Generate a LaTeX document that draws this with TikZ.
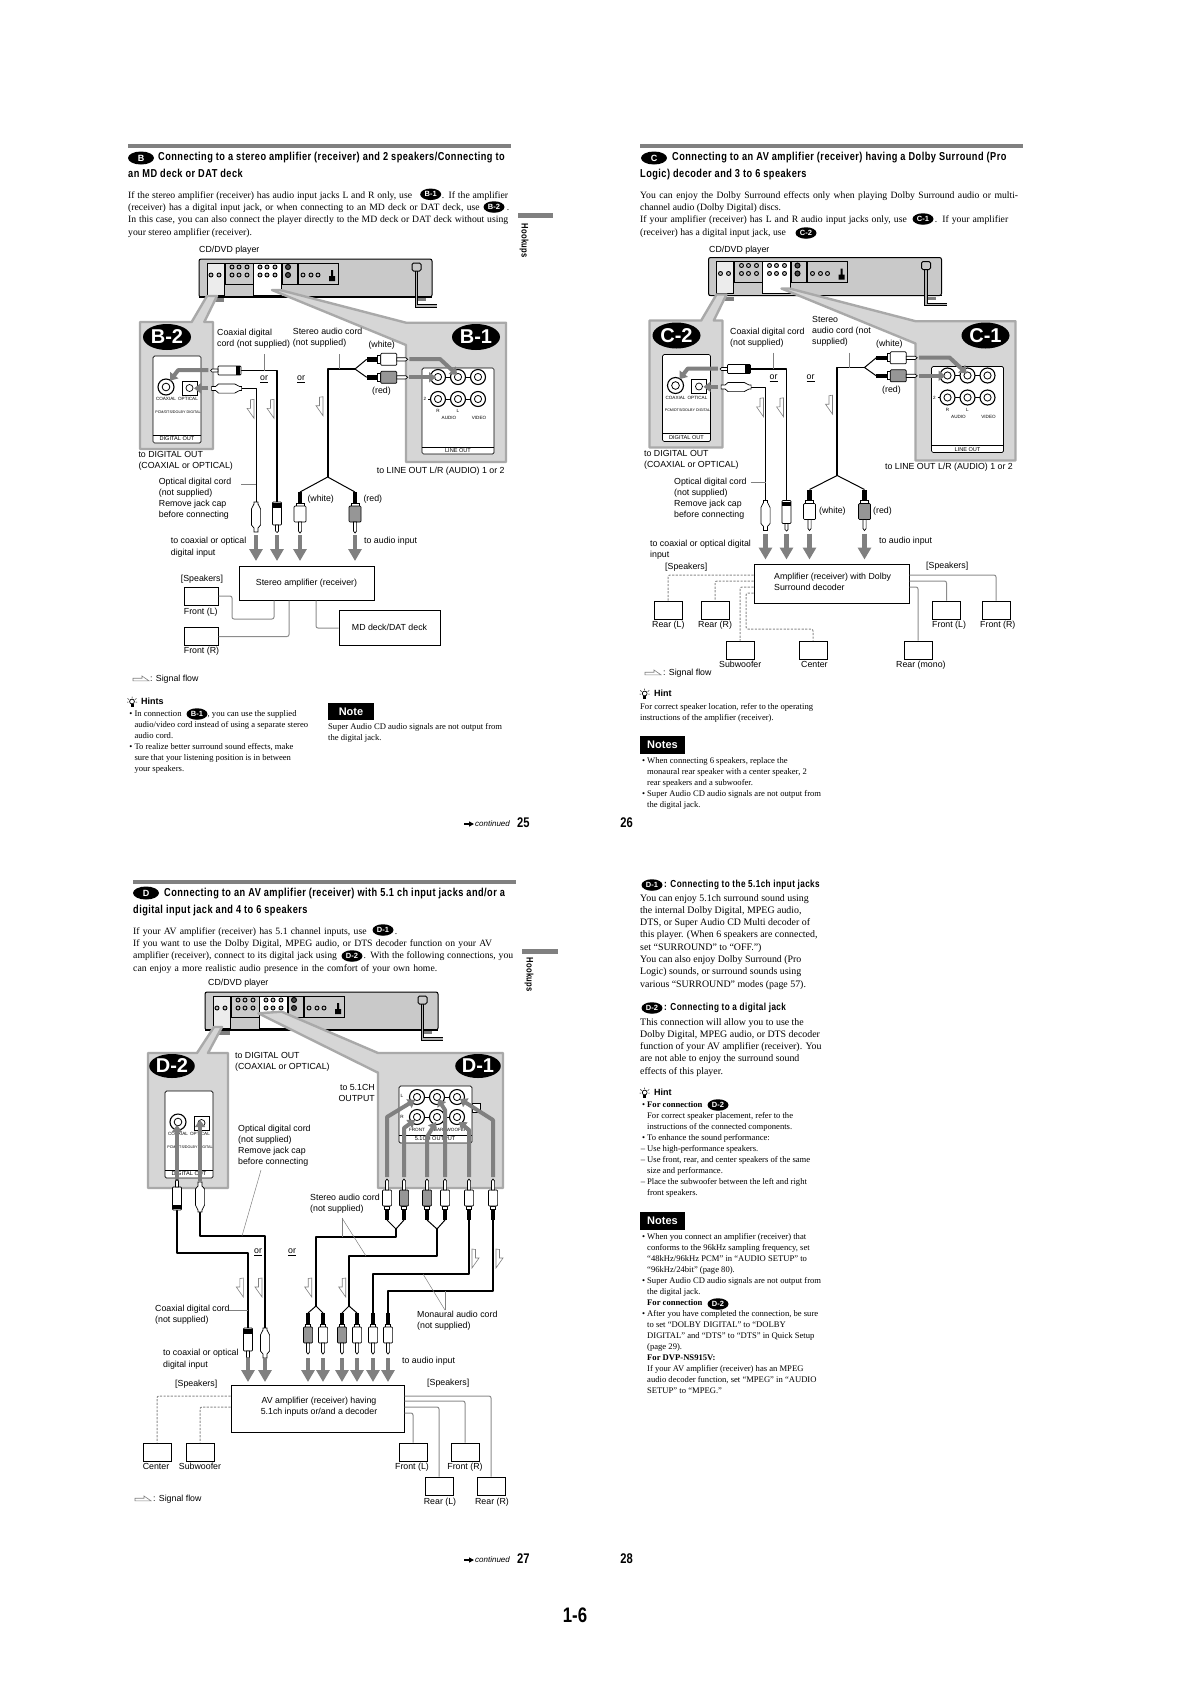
\documentclass[tikz,border=0pt]{standalone}
\usepackage{fontspec}
\setmainfont{Liberation Serif}
\setsansfont{Liberation Sans}
\newfontfamily\hdfam[FakeStretch=0.8,LetterSpace=4]{Liberation Sans}
\newfontfamily\numfam[FakeStretch=0.8]{Liberation Sans}
\usetikzlibrary{arrows.meta,shapes.geometric}
\definecolor{panelfill}{HTML}{D6D6D6}
\definecolor{paneledge}{HTML}{A9A9A9}
\definecolor{playergray}{HTML}{C9C9C9}
\definecolor{arrowgray}{HTML}{808080}
\definecolor{wiregray}{HTML}{8C8C8C}
\definecolor{plugred}{HTML}{969696}
\newcommand{\headfont}{\hdfam\bfseries\fontsize{11.5}{17}\selectfont}
\newcommand{\subheadfont}{\hdfam\bfseries\fontsize{10.2}{12}\selectfont}
\newcommand{\parafont}{\rmfamily\fontsize{9.7}{12.2}\selectfont}
\newcommand{\sidefont}{\rmfamily\fontsize{9.9}{12.3}\selectfont}
\newcommand{\hintfont}{\rmfamily\fontsize{8.6}{11}\selectfont}
\newcommand{\lblfont}{\sffamily\fontsize{8.8}{11}\selectfont}
\newcommand{\jackfont}{\sffamily\fontsize{4.6}{5}\selectfont}
\newcommand{\pagefont}{\numfam\bfseries\fontsize{14}{16}\selectfont}
\newcommand{\jline}[2]{\makebox[#1pt][s]{#2}}
\tikzset{
    para/.style={font=\parafont,align=left,inner sep=0pt,anchor=north west},
    sidepara/.style={font=\sidefont,align=left,inner sep=0pt,anchor=north west},
    hintpara/.style={font=\hintfont,align=left,inner sep=0pt,anchor=north west},
    lbl/.style={font=\lblfont,align=left,inner sep=0pt,anchor=north west},
    heading/.style={font=\headfont,inner sep=0pt,anchor=mid west},
    subhead/.style={font=\subheadfont,inner sep=0pt,anchor=mid west},
    jacklbl/.style={font=\jackfont,inner sep=0pt},
    hintlbl/.style={font=\sffamily\bfseries\fontsize{9}{11}\selectfont,inner sep=0pt,anchor=mid west},
    headbadge/.style={ellipse,fill=black,text=white,inner sep=0pt,minimum width=26pt,minimum height=13pt,font=\sffamily\bfseries\fontsize{9}{10}\selectfont},
    inbadge/.style={ellipse,fill=black,text=white,inner sep=0pt,minimum width=21pt,minimum height=11.5pt,font=\sffamily\bfseries\fontsize{7.5}{8}\selectfont},
    panelbadge/.style={ellipse,fill=black,text=white,inner sep=0pt,minimum width=48pt,minimum height=26pt,font=\sffamily\bfseries\fontsize{20}{22}\selectfont},
    notebox/.style={fill=black,text=white,inner sep=0pt,minimum height=17.5pt,font=\sffamily\bfseries\fontsize{11}{12}\selectfont},
    ampbox/.style={draw,line width=1pt,inner sep=0pt,font=\lblfont,align=left},
    spkbox/.style={draw,line width=1pt,fill=white,inner sep=0pt,minimum width=28pt,minimum height=18pt},
    headrule/.style={line width=3.2pt,draw=arrowgray},
    panel/.style={fill=panelfill,draw=paneledge,line width=2.4pt},
    cardline/.style={line width=.7pt},
    cord/.style={line width=1.6pt,line join=round},
    thincord/.style={line width=1pt,line join=round},
    leader/.style={line width=.5pt,draw=gray},
    wire/.style={line width=1pt,draw=wiregray,rounded corners=2pt},
    dashwire/.style={wire,dashed,dash pattern=on 2.2pt off 1.4pt},
    flowline/.style={line width=.6pt,draw=gray,fill=white},
    panelarrow/.style={draw=arrowgray,line width=4pt,line join=round,-{Triangle[length=7pt,width=10pt]}},
    downarrow/.style={draw=arrowgray,line width=4.6pt,-{Triangle[length=12pt,width=13pt]}},
}
\newcommand{\plughw}{6}
% plug seen from the side, cord end at x,y
\newcommand{\rcaplug}[4]{\begin{scope}[shift={(#1,#2)},rotate=#3]
	\fill[black] (-2.2,0) rectangle (2.2,11);
	\draw[line width=.7pt,fill=white] (-\plughw+2,11) rectangle (\plughw-2,14);
	\draw[line width=.7pt,fill=#4,rounded corners=1pt] (-\plughw,14) rectangle (\plughw,30);
	\draw[line width=.7pt,fill=white] (-1.6,30) -- (-1.6,39) -- (0,41) -- (1.6,39) -- (1.6,30) -- cycle;
\end{scope}}
\newcommand{\coaxplug}[3]{\begin{scope}[shift={(#1,#2)},rotate=#3]
	\draw[line width=.7pt,fill=white,rounded corners=.8pt] (-4.5,0) rectangle (4.5,23);
	\fill[black] (-4.5,1) rectangle (4.5,5.5);
	\draw[line width=.7pt,fill=white] (-1.5,23) -- (-1.5,29) -- (0,30.5) -- (1.5,29) -- (1.5,23) -- cycle;
\end{scope}}
\newcommand{\optplug}[3]{\begin{scope}[shift={(#1,#2)},rotate=#3]
	\draw[line width=.7pt,fill=white] (-2,0) -- (-2,2) -- (-4.6,7) -- (-4.6,23) -- (-2,26) -- (-2,30) -- (2,30) -- (2,26) -- (4.6,23) -- (4.6,7) -- (2,2) -- (2,0) -- cycle;
\end{scope}}
\newcommand{\rcajack}[3]{\draw[line width=1.1pt,fill=white] (#1,#2) circle (#3);
	\draw[line width=.8pt,fill=white] (#1,#2) circle (#3*.48);}
\newcommand{\sigflow}[3]{\draw[flowline,shift={(#1,#2)},xscale=#3] (0,0) -- (0,19) -- (-7,9) -- (-3.5,9) -- (-3.5,.5) -- cycle;}
\newcommand{\siglegend}[2]{\draw[flowline,shift={(#1,#2)}] (0,1.8) -- (16,1.8) -- (9,-3) -- (9,-.8) -- (0,-.8) -- cycle;}
\newcommand{\hinticon}[2]{\begin{scope}[shift={(#1,#2)}]
	\draw[line width=.7pt] (0,-.5) circle (2.4);
	\draw[line width=.5pt] (-4.5,-3.5) -- (-3,-2.5) (4.5,-3.5) -- (3,-2.5) (0,-5.5) -- (0,-4) (-5,0) -- (-3.6,0) (5,0) -- (3.6,0);
	\fill[black] (-1.5,2) rectangle (1.5,5);
\end{scope}}
\newcommand{\dvdplayer}{
	\draw[line width=1pt,fill=playergray,rounded corners=2pt] (199,259) rectangle (432,297);
	\draw[line width=1.4pt] (199,297) -- (432,297);
	\fill[gray] (212,298) rectangle (224,302);
	\fill[gray] (416,298) rectangle (426,301);
	\draw[cardline,fill=white!85!gray] (207,263) rectangle (224,295);
	\draw[cardline,fill=white] (253,263) rectangle (281,295);
	\draw[cardline,fill=playergray] (225,263) rectangle (253,284);
	\draw[cardline,fill=playergray] (282,263) rectangle (297,284);
	\draw[cardline,fill=playergray] (298,263) rectangle (338,284);
	\foreach \x in {211,219,303,311,318} \draw[line width=.9pt,fill=gray!50] (\x,275) circle (2);
	\foreach \x in {232,239,247,260,267,275} {
		\draw[line width=.9pt,fill=gray!50] (\x,267) circle (2);
		\draw[line width=.9pt,fill=gray!50] (\x,275) circle (2);
	}
	\foreach \y in {267,275} \draw[line width=1pt,fill=black!70] (288,\y) circle (2.5);
	\fill[black] (329,281) rectangle (335,276) (331,276) rectangle (333,270);
	\draw[line width=3.2pt] (416.5,271) -- (416.5,306) -- (437,306);
	\draw[line width=1.8pt,draw=gray!60] (416.5,271) -- (416.5,306) -- (437,306);
	\draw[line width=1pt,fill=playergray,rounded corners=1.5pt] (412,263) rectangle (421,271);
}
\newcommand{\digitalcard}[2]{\begin{scope}[shift={(#1,#2)}]
	\draw[cardline,fill=white,rounded corners=1.5pt] (0,0) rectangle (48,87);
	\draw[cardline] (0,79) -- (48,79);
	\rcajack{13}{31}{8}
	\draw[cardline,fill=white] (29,25) rectangle (44,39);
	\draw[cardline] (36.5,32) circle (3.5);
	\node[jacklbl] (coaxlbl) at (13,43) {COAXIAL};
	\node[jacklbl] (optlbl) at (35,43) {OPTICAL};
	\node[jacklbl,font=\sffamily\fontsize{3.7}{4}\selectfont] (pcmlbl) at (25,56) {PCM/DTS/DOLBY DIGITAL};
	\node[jacklbl,font=\sffamily\fontsize{5.6}{6}\selectfont] (digoutlbl) at (24,83) {DIGITAL OUT};
\end{scope}}
\newcommand{\lineoutcard}[2]{\begin{scope}[shift={(#1,#2)}]
	\draw[cardline,fill=white,rounded corners=1.5pt] (0,0) rectangle (72,86);
	\draw[cardline] (0,79) -- (72,79);
	\draw[line width=.8pt] (16,9) -- (56,9) (6,31) -- (56,31);
	\foreach \x in {16,36,56} {
		\rcajack{\x}{9}{7.5}
		\rcajack{\x}{31}{7.5}
	}
	\node[jacklbl] (twolbl) at (3,31) {2};
	\node[jacklbl] (rlbl) at (16,43) {R};
	\node[jacklbl] (llbl) at (36,43) {L};
	\node[jacklbl] (audiolbl) at (27,50) {AUDIO};
	\node[jacklbl] (videolbl) at (57,50) {VIDEO};
	\node[jacklbl,font=\sffamily\fontsize{5.6}{6}\selectfont] (lineoutlbl) at (36,83) {LINE OUT};
\end{scope}}
% the upper half shared by the stereo and the Dolby hookups
\newcommand{\hookupcore}[3]{
	\dvdplayer
	\draw[panel,line join=round] (140,322) -- (191.7,322) -- (207,296) -- (217,296) -- (204.3,322) -- (213,322) -- (213,449) -- (140,449) -- cycle;
	\draw[panel,line join=round] (280,290) -- (406,322.7) -- (506,322.7) -- (506,462) -- (406,462) -- (406,345) -- (272,290) -- cycle;
	\digitalcard{153}{356}
	\lineoutcard{422}{368}
	\node[panelbadge] (leftbadge) at (167,337) {#1};
	\node[panelbadge] (rightbadge) at (476,337) {#2};
	\draw[panelarrow] (409.3,359) -- (440,359) -- (457.3,375);
	\draw[panelarrow] (409.3,377.3) -- (436,377.3);
	\draw[panelarrow] (208.3,370) -- (178.3,370) -- (170,380.7);
	\draw[panelarrow] (208.3,388.3) -- (194,388.3);
	\coordinate (coaxin) at (241,370.5);
	\coordinate (coaxout) at (277,502);
	\coordinate (optin) at (241.6,388.5);
	\coordinate (optout) at (256,502);
	\coordinate (trunktop) at (327.7,369);
	\coordinate (trunkfork) at (327.7,477);
	\coordinate (forkhub) at (355,369);
	\draw[cord] (coaxin) -| (coaxout);
	\draw[thincord] (optin) -| (optout);
	\draw[cord] (forkhub) -- (trunktop) -- (trunkfork);
	\draw[thincord] (366.7,359.3) -- (forkhub) -- (366.7,377.3);
	\draw[thincord] (300,#3) -- (trunkfork) -- (355,#3);
	\coaxplug{241}{370.5}{-90}
	\optplug{241.6}{388.5}{-90}
	\rcaplug{366.7}{359.3}{90}{white}
	\rcaplug{366.7}{377.3}{90}{plugred}
	\optplug{256}{502}{0}
	\coaxplug{277}{502}{0}
	\rcaplug{300}{#3}{0}{white}
	\rcaplug{355}{#3}{0}{plugred}
	\foreach \x in {256,277,300,355} \draw[downarrow] (\x,535) -- (\x,561);
	\draw[leader] (264,354) -- (264,370.5);
	\draw[leader] (339.3,354) -- (339.3,369);
	\draw[leader] (241,484) -- (256,484);
	\sigflow{254}{399.3}{1}
	\sigflow{274}{399.3}{1}
	\sigflow{323}{396.7}{1}
	\node[lbl] (orone) at (260,376) {\underline{or}};
	\node[lbl] (ortwo) at (297,376) {\underline{or}};
}
\begin{document}
\begin{tikzpicture}[x=1pt,y=-1pt]
	\useasboundingbox (0,0) rectangle (1191,1684);
	% page 25
	\begin{scope}[name prefix=b-]
		\hookupcore{B-2}{B-1}{492}
	\end{scope}
	\draw[headrule] (128,146) -- (511,146);
	\node[headbadge] (bbadge) at (141,158) {B};
	\node[heading] (bhead1) at (158,158.5) {Connecting to a stereo amplifier (receiver) and 2 speakers/Connecting to};
	\node[heading] (bhead2) at (128,175.5) {an MD deck or DAT deck};
	\node[para] (bpara) at (128,191.5) {\jline{380}{If the stereo amplifier (receiver) has audio input jacks L and R only, use \hspace{27pt}. If the amplifier}\\\jline{381}{(receiver) has a digital input jack, or when connecting to an MD deck or DAT deck, use \hspace{24pt}.}\\\jline{380}{In this case, you can also connect the player directly to the MD deck or DAT deck without using}\\your stereo amplifier (receiver).};
	\node[inbadge] (bpb1) at (430.7,194.3) {B-1};
	\node[inbadge] (bpb2) at (494,207) {B-2};
	\fill[arrowgray] (518,213) rectangle (553,218);
	\node[subhead,font=\hdfam\bfseries\fontsize{9.5}{10}\selectfont,rotate=-90,anchor=west] (btab) at (524,223) {Hookups};
	\node[lbl] (bplayer) at (199,246) {CD/DVD player};
	\node[lbl] (bcoax) at (217,329) {Coaxial digital\\cord (not supplied)};
	\node[lbl] (bstereo) at (292.7,328) {Stereo audio cord\\(not supplied)};
	\node[lbl] (bwhite) at (368.3,341) {(white)};
	\node[lbl] (bred) at (372,387) {(red)};
	\node[lbl] (bdigout) at (138.3,451) {to DIGITAL OUT\\(COAXIAL or OPTICAL)};
	\node[lbl] (blineout) at (376.7,467) {to LINE OUT L/R (AUDIO) 1 or 2};
	\node[lbl] (boptical) at (158.7,478) {Optical digital cord\\(not supplied)\\Remove jack cap\\before connecting};
	\node[lbl] (bwhite2) at (307.3,495) {(white)};
	\node[lbl] (bred2) at (363.3,495) {(red)};
	\node[lbl,font=\sffamily\fontsize{8.8}{12}\selectfont] (bcoaxin) at (170.7,537) {to coaxial or optical\\digital input};
	\node[lbl] (baudioin) at (364,537) {to audio input};
	\node[lbl] (bspeakers) at (180.7,575) {[Speakers]};
	\node[ampbox,minimum width=135pt,minimum height=34pt] (bamp) at (306.5,583) {Stereo amplifier (receiver)};
	\node[ampbox,minimum width=101pt,minimum height=35pt] (bdeck) at (389.5,627.5) {MD deck/DAT deck};
	\node[spkbox,minimum width=34pt] (bfrontl) at (201,596) {};
	\node[spkbox,minimum width=34pt] (bfrontr) at (201,636.5) {};
	\node[lbl] (bfrontltxt) at (183.7,608) {Front (L)};
	\node[lbl] (bfrontrtxt) at (183.7,647) {Front (R)};
	\draw[wire] (bfrontl.east) -- (232,596) -- (232,619) -- (274,619) -- (bamp.south -| 274,0);
	\draw[wire] (bfrontr.east) -- (289,636.5) -- (bamp.south -| 289,0);
	\draw[wire] (bamp.south -| 316,0) -- (316,628) -- (bdeck.west |- 0,628);
	\siglegend{133}{679}
	\node[lbl] (bflow) at (150,675) {: Signal flow};
	\hinticon{132}{702}
	\node[hintlbl] (bhints) at (141,702.5) {Hints};
	\node[hintpara] (bhinttxt) at (134.3,710) {\llap{\textbullet\ }In connection \hspace{24pt}, you can use the supplied\\audio/video cord instead of using a separate stereo\\audio cord.\\\llap{\textbullet\ }To realize better surround sound effects, make\\sure that your listening position is in between\\your speakers.};
	\node[inbadge] (bhb1) at (197,714) {B-1};
	\node[notebox,minimum width=46pt] (bnote) at (351,711.5) {Note};
	\node[hintpara] (bnotetxt) at (328,723) {Super Audio CD audio signals are not output from\\the digital jack.};
	\draw[line width=1.6pt,-{Triangle[length=5pt,width=5pt]}] (464,824) -- (474,824);
	\node[font=\sffamily\itshape\fontsize{8}{9}\selectfont,inner sep=0pt,anchor=mid west] (bcont) at (475,824) {continued};
	\node[font=\pagefont,inner sep=0pt,anchor=mid west] (bpage) at (517,825) {25};
	% page 26
	\begin{scope}[shift={(509.5,-1.5)},name prefix=c-]
		\hookupcore{C-2}{C-1}{491}
	\end{scope}
	\draw[headrule] (640,146) -- (1023,146);
	\node[headbadge] (cbadge) at (654,158) {C};
	\node[heading] (chead1) at (672,158.5) {Connecting to an AV amplifier (receiver) having a Dolby Surround (Pro};
	\node[heading] (chead2) at (640,175.5) {Logic) decoder and 3 to 6 speakers};
	\node[para] (cpara) at (640,191.5) {\jline{378}{You can enjoy the Dolby Surround effects only when playing Dolby Surround audio or multi-}\\channel audio (Dolby Digital) discs.\\\jline{368}{If your amplifier (receiver) has L and R audio input jacks only, use \hspace{25pt}. If your amplifier}\\(receiver) has a digital input jack, use \hspace{25pt}.};
	\node[inbadge] (cpb1) at (923,219) {C-1};
	\node[inbadge] (cpb2) at (806,233) {C-2};
	\node[lbl] (cplayer) at (709,246) {CD/DVD player};
	\node[lbl] (ccoax) at (730,328) {Coaxial digital cord\\(not supplied)};
	\node[lbl] (cstereo) at (812,316) {Stereo\\audio cord (not\\supplied)};
	\node[lbl] (cwhite) at (876,340) {(white)};
	\node[lbl] (cred) at (882,386) {(red)};
	\node[lbl] (cdigout) at (644,450) {to DIGITAL OUT\\(COAXIAL or OPTICAL)};
	\node[lbl] (clineout) at (885,463) {to LINE OUT L/R (AUDIO) 1 or 2};
	\node[lbl] (coptical) at (674,478) {Optical digital cord\\(not supplied)\\Remove jack cap\\before connecting};
	\node[lbl] (cwhite2) at (819,507) {(white)};
	\node[lbl] (cred2) at (873,507) {(red)};
	\node[lbl] (ccoaxin) at (650,540) {to coaxial or optical digital\\input};
	\node[lbl] (caudioin) at (879,537) {to audio input};
	\node[lbl] (cspeakersl) at (665,563) {[Speakers]};
	\node[lbl] (cspeakersr) at (926,562) {[Speakers]};
	\node[ampbox,minimum width=155pt,minimum height=39pt] (camp) at (831.5,583.5) {};
	\node[lbl] (camptxt) at (774,573) {Amplifier (receiver) with Dolby\\Surround decoder};
	\node[spkbox] (crearl) at (668,610) {};
	\node[spkbox] (crearr) at (715,610) {};
	\node[spkbox] (cfrontl) at (946.5,610) {};
	\node[spkbox] (cfrontr) at (996,610) {};
	\node[spkbox] (csub) at (740,650) {};
	\node[spkbox] (ccenter) at (813,650) {};
	\node[spkbox] (crearm) at (918,650) {};
	\node[lbl] (crearltxt) at (652,621) {Rear (L)};
	\node[lbl] (crearrtxt) at (698,621) {Rear (R)};
	\node[lbl] (cfrontltxt) at (932,621) {Front (L)};
	\node[lbl] (cfrontrtxt) at (980,621) {Front (R)};
	\node[lbl] (csubtxt) at (719,661) {Subwoofer};
	\node[lbl] (ccentertxt) at (801,661) {Center};
	\node[lbl] (crearmtxt) at (896,661) {Rear (mono)};
	\draw[dashwire] (camp.west |- 0,575) -| (crearl.north);
	\draw[dashwire] (camp.west |- 0,581) -| (crearr.north);
	\draw[dashwire] (camp.west |- 0,587) -| (csub.north);
	\draw[dashwire] (camp.west |- 0,593) -- (746,593) -- (746,629) -| (ccenter.north);
	\draw[wire] (camp.east |- 0,575) -| (cfrontr.north);
	\draw[wire] (camp.east |- 0,581) -| (cfrontl.north);
	\draw[wire] (camp.east |- 0,587) -| (crearm.north);
	\siglegend{645}{673}
	\node[lbl] (cflow) at (663,669) {: Signal flow};
	\hinticon{644.7}{694}
	\node[hintlbl] (chint) at (654,694.5) {Hint};
	\node[hintpara] (chinttxt) at (640,703) {For correct speaker location, refer to the operating\\instructions of the amplifier (receiver).};
	\node[notebox,minimum width=45pt] (cnotes) at (662.5,745) {Notes};
	\node[hintpara] (cnotetxt) at (647,757) {\llap{\textbullet\ }When connecting 6 speakers, replace the\\monaural rear speaker with a center speaker, 2\\rear speakers and a subwoofer.\\\llap{\textbullet\ }Super Audio CD audio signals are not output from\\the digital jack.};
	\node[font=\pagefont,inner sep=0pt,anchor=mid east] (cpage) at (633,825) {26};
	% page 27
	\begin{scope}[shift={(6,733)},name prefix=d-]
		\dvdplayer
	\end{scope}
	\draw[panel,line join=round] (148,1053) -- (197,1053) -- (214,1027) -- (222,1027) -- (208,1053) -- (228,1053) -- (228,1188) -- (148,1188) -- cycle;
	\draw[panel,line join=round] (281.7,1011.7) -- (378,1053) -- (503,1053) -- (503,1188) -- (378,1188) -- (378,1072.7) -- (258.3,1013.3) -- cycle;
	\begin{scope}[name prefix=d-]
		\digitalcard{165}{1091}
		\draw[cardline,fill=white] (472,1103) rectangle (480,1112);
		\draw[cardline,fill=white,rounded corners=1.5pt] (399,1086) rectangle (472,1143);
		\draw[cardline] (399,1135) -- (472,1135);
		\draw[line width=.8pt] (417,1097) -- (457,1097) (417,1117) -- (457,1117);
		\foreach \x in {417,437,457} {
			\rcajack{\x}{1097}{7.5}
			\rcajack{\x}{1117}{7.5}
		}
		\node[jacklbl] (llbl) at (402,1096) {L};
		\node[jacklbl] (rlbl) at (402,1117) {R};
		\node[jacklbl] (frontlbl) at (417,1130) {FRONT};
		\node[jacklbl] (rearlbl) at (437,1130) {REAR};
		\node[jacklbl] (wooferlbl) at (457,1130) {WOOFER};
		\node[jacklbl,font=\sffamily\fontsize{5.6}{6}\selectfont] (outputlbl) at (435,1139) {5.1CH OUTPUT};
	\end{scope}
	\node[panelbadge,minimum width=44pt,minimum height=24pt] (dleftbadge) at (172,1066) {D-2};
	\node[panelbadge,minimum width=44pt,minimum height=24pt] (drightbadge) at (478,1066) {D-1};
	\draw[panelarrow] (177,1181) -- (177,1125);
	\draw[panelarrow] (200,1181) -- (200,1120);
	\draw[panelarrow] (387,1177) -- (387,1117) -- (415,1100);
	\draw[panelarrow] (404,1177) -- (404,1128) -- (415,1120);
	\draw[panelarrow] (427,1177) -- (427,1137) -- (436,1122);
	\draw[panelarrow] (445,1177) -- (445,1110) -- (438,1099);
	\draw[panelarrow] (469,1177) -- (469,1130) -- (459,1122);
	\draw[panelarrow] (493,1177) -- (493,1120) -- (460,1099);
	\begin{scope}
		\renewcommand{\plughw}{4.6}
		\coordinate (dcoaxa) at (177,1209);
		\coordinate (dcoaxb) at (248,1330);
		\coordinate (dopta) at (200,1212);
		\coordinate (doptb) at (265,1328);
		\draw[cord] (dcoaxa) |- (248,1253) -- (dcoaxb);
		\draw[cord] (dopta) |- (265,1236) -- (doptb);
		% trunks from the upper plugs to the lower plugs
		\coordinate (dhuba) at (396,1229);
		\coordinate (dhubb) at (437,1229);
		\coordinate (dlowa) at (316,1306);
		\coordinate (dlowb) at (349,1306);
		\draw[cord] (dhuba) |- (316,1237) -- (dlowa);
		\draw[cord] (dhubb) |- (349,1256) -- (dlowb);
		\draw[thincord] (387,1220) -- (dhuba) -- (404,1220);
		\draw[thincord] (427,1220) -- (dhubb) -- (445,1220);
		\draw[thincord] (308,1313) -- (dlowa) -- (323,1313);
		\draw[thincord] (342,1313) -- (dlowb) -- (357,1313);
		\draw[cord] (469,1220) |- (373,1274) -- (373,1313);
		\draw[cord] (493,1220) |- (388,1291) -- (388,1313);
		\coaxplug{177}{1210}{180}
		\optplug{200}{1212}{180}
		\rcaplug{387}{1220}{180}{white}
		\rcaplug{404}{1220}{180}{plugred}
		\rcaplug{427}{1220}{180}{plugred}
		\rcaplug{445}{1220}{180}{white}
		\rcaplug{469}{1220}{180}{white}
		\rcaplug{493}{1220}{180}{white}
		\coaxplug{248}{1328}{0}
		\optplug{265}{1328}{0}
		\rcaplug{308}{1313}{0}{plugred}
		\rcaplug{323}{1313}{0}{white}
		\rcaplug{342}{1313}{0}{plugred}
		\rcaplug{357}{1313}{0}{white}
		\rcaplug{373}{1313}{0}{white}
		\rcaplug{388}{1313}{0}{white}
	\end{scope}
	\foreach \x in {248,265,308,323,342,357,373,388} \draw[downarrow] (\x,1358) -- (\x,1382);
	\draw[headrule] (133,882) -- (516,882);
	\node[headbadge] (dbadge) at (146,893) {D};
	\node[heading] (dhead1) at (164,894) {Connecting to an AV amplifier (receiver) with 5.1 ch input jacks and/or a};
	\node[heading] (dhead2) at (133,911) {digital input jack and 4 to 6 speakers};
	\node[para] (dpara) at (133,927.5) {\jline{264}{If your AV amplifier (receiver) has 5.1 channel inputs, use \hspace{25pt}.}\\\jline{359}{If you want to use the Dolby Digital, MPEG audio, or DTS decoder function on your AV}\\\jline{380}{amplifier (receiver), connect to its digital jack using \hspace{24pt}. With the following connections, you}\\\jline{304}{can enjoy a more realistic audio presence in the comfort of your own home.}};
	\node[inbadge] (dpb1) at (383,930) {D-1};
	\node[inbadge] (dpb2) at (352,956) {D-2};
	\fill[arrowgray] (522,949) rectangle (558,954);
	\node[subhead,font=\hdfam\bfseries\fontsize{9.5}{10}\selectfont,rotate=-90,anchor=west] (dtab) at (529,957) {Hookups};
	\node[lbl] (dplayer) at (208,979) {CD/DVD player};
	\node[lbl] (ddigout) at (235,1052) {to DIGITAL OUT\\(COAXIAL or OPTICAL)};
	\node[lbl,align=right,anchor=north east] (dout) at (375,1084) {to 5.1CH\\OUTPUT};
	\node[lbl] (doptical) at (238,1125) {Optical digital cord\\(not supplied)\\Remove jack cap\\before connecting};
	\node[lbl] (dstereo) at (310,1194) {Stereo audio cord\\(not supplied)};
	\node[lbl] (dorone) at (254,1249) {\underline{or}};
	\node[lbl] (dortwo) at (288,1249) {\underline{or}};
	\node[lbl] (dcoax) at (155,1305) {Coaxial digital cord\\(not supplied)};
	\node[lbl] (dmono) at (417,1311) {Monaural audio cord\\(not supplied)};
	\node[lbl,font=\sffamily\fontsize{8.8}{12}\selectfont] (dcoaxin) at (163,1349) {to coaxial or optical\\digital input};
	\node[lbl] (daudioin) at (402,1357) {to audio input};
	\node[lbl] (dspeakersl) at (175,1380) {[Speakers]};
	\node[lbl] (dspeakersr) at (427,1379) {[Speakers]};
	\coordinate (dmonoa) at (445,1310);
	\coordinate (dstereoa) at (342,1218);
	\draw[leader] (261,1170) -- (242,1236);
	\draw[leader] (dstereoa) -- (342,1237);
	\draw[leader] (dstereoa) -- (366,1256);
	\draw[leader] (229,1310) -- (248,1310);
	\draw[leader] (dmonoa) -- (423,1274);
	\draw[leader] (dmonoa) -- (445,1291);
	\sigflow{243.3}{1278}{1}
	\sigflow{262}{1278}{1}
	\sigflow{311.7}{1278}{1}
	\sigflow{345.7}{1278}{1}
	\sigflow{472}{1249}{-1}
	\sigflow{496}{1249}{-1}
	\node[ampbox,minimum width=173pt,minimum height=47pt] (damp) at (317.5,1408.5) {};
	\node[lbl,align=center,anchor=north] (damptxt) at (319,1397) {AV amplifier (receiver) having\\5.1ch inputs or/and a decoder};
	\node[spkbox] (dcenter) at (157,1452) {};
	\node[spkbox] (dsub) at (200,1452) {};
	\node[spkbox] (dfrontl) at (413,1452) {};
	\node[spkbox] (dfrontr) at (465,1452) {};
	\node[spkbox] (drearl) at (439,1486) {};
	\node[spkbox] (drearr) at (491,1486) {};
	\node[lbl,anchor=north] (dcentertxt) at (156,1463) {Center};
	\node[lbl,anchor=north] (dsubtxt) at (200,1463) {Subwoofer};
	\node[lbl,anchor=north] (dfrontltxt) at (412,1463) {Front (L)};
	\node[lbl,anchor=north] (dfrontrtxt) at (465,1463) {Front (R)};
	\node[lbl,anchor=north] (drearltxt) at (440,1498) {Rear (L)};
	\node[lbl,anchor=north] (drearrtxt) at (492,1498) {Rear (R)};
	\draw[dashwire] (damp.west |- 0,1396) -| (dcenter.north);
	\draw[dashwire] (damp.west |- 0,1407) -| (dsub.north);
	\draw[wire] (damp.east |- 0,1396) -| (drearr.north);
	\draw[wire] (damp.east |- 0,1401) -| (dfrontr.north);
	\draw[wire] (damp.east |- 0,1407) -| (drearl.north);
	\draw[wire] (damp.east |- 0,1413) -| (dfrontl.north);
	\siglegend{135}{1499}
	\node[lbl] (dflow) at (153,1495) {: Signal flow};
	\draw[line width=1.6pt,-{Triangle[length=5pt,width=5pt]}] (464,1560) -- (474,1560);
	\node[font=\sffamily\itshape\fontsize{8}{9}\selectfont,inner sep=0pt,anchor=mid west] (dcont) at (475,1560) {continued};
	\node[font=\pagefont,inner sep=0pt,anchor=mid west] (dpage) at (517,1561) {27};
	% page 28
	\node[inbadge] (sb1) at (652,885) {D-1};
	\node[subhead] (shead1) at (664,885) {: Connecting to the 5.1ch input jacks};
	\node[sidepara] (spara1) at (640,894) {You can enjoy 5.1ch surround sound using\\the internal Dolby Digital, MPEG audio,\\DTS, or Super Audio CD Multi decoder of\\this player. (When 6 speakers are connected,\\set “SURROUND” to “OFF.”)\\You can also enjoy Dolby Surround (Pro\\Logic) sounds, or surround sounds using\\various “SURROUND” modes (page 57).};
	\node[inbadge] (sb2) at (652,1008) {D-2};
	\node[subhead] (shead2) at (664,1008) {: Connecting to a digital jack};
	\node[sidepara] (spara2) at (640,1018) {This connection will allow you to use the\\Dolby Digital, MPEG audio, or DTS decoder\\function of your AV amplifier (receiver). You\\are not able to enjoy the surround sound\\effects of this player.};
	\hinticon{644.7}{1093}
	\node[hintlbl] (shint) at (654,1093.5) {Hint};
	\node[hintpara] (shinttxt) at (647,1101) {\llap{\textbullet\ }\textbf{For connection}\\For correct speaker placement, refer to the\\instructions of the connected components.\\\llap{\textbullet\ }To enhance the sound performance:\\\llap{– }Use high-performance speakers.\\\llap{– }Use front, rear, and center speakers of the same\\size and performance.\\\llap{– }Place the subwoofer between the left and right\\front speakers.};
	\node[inbadge] (sb3) at (718,1105) {D-2};
	\node[notebox,minimum width=45pt] (snotes) at (662.5,1221) {Notes};
	\node[hintpara,font=\rmfamily\fontsize{8.6}{11.05}\selectfont] (snotetxt) at (647,1233) {\llap{\textbullet\ }When you connect an amplifier (receiver) that\\conforms to the 96kHz sampling frequency, set\\“48kHz/96kHz PCM” in “AUDIO SETUP” to\\“96kHz/24bit” (page 80).\\\llap{\textbullet\ }Super Audio CD audio signals are not output from\\the digital jack.\\\textbf{For connection}\\\llap{\textbullet\ }After you have completed the connection, be sure\\to set “DOLBY DIGITAL” to “DOLBY\\DIGITAL” and “DTS” to “DTS” in Quick Setup\\(page 29).\\\textbf{For DVP-NS915V:}\\If your AV amplifier (receiver) has an MPEG\\audio decoder function, set “MPEG” in “AUDIO\\SETUP” to “MPEG.”};
	\node[inbadge] (sb4) at (718,1304) {D-2};
	\node[font=\pagefont,inner sep=0pt,anchor=mid east] (spage) at (633,1561) {28};
	\node[font=\numfam\bfseries\fontsize{21}{23}\selectfont,inner sep=0pt] (sheet) at (575,1615) {1-6};
\end{tikzpicture}
\end{document}
